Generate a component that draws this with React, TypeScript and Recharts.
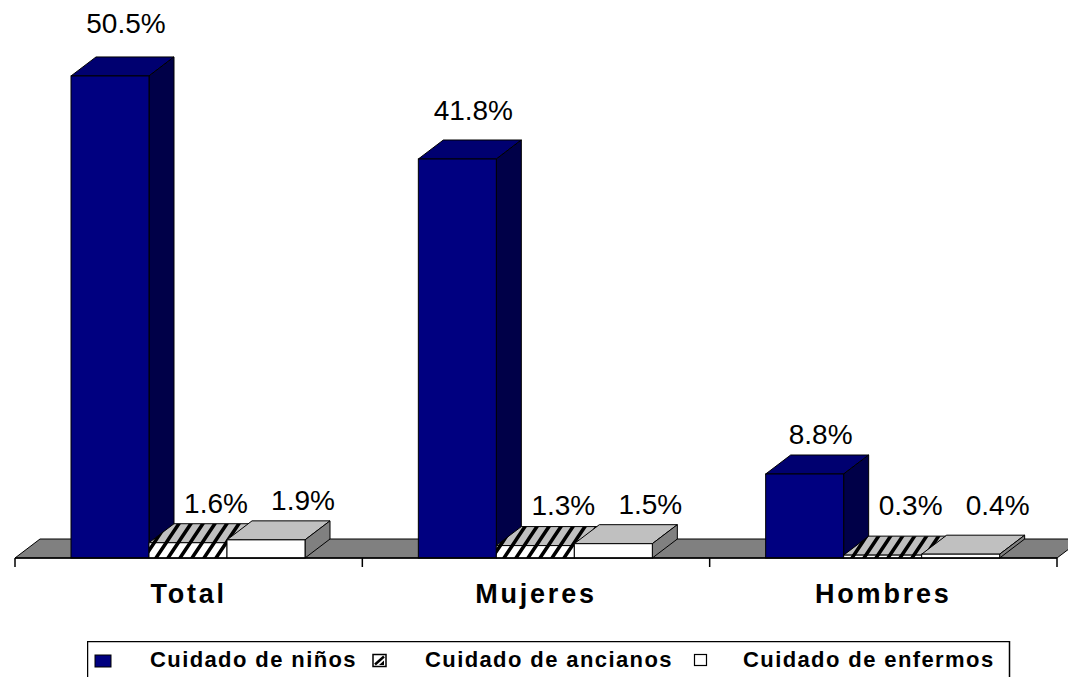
import React from 'react';
import { BarChart, Bar, XAxis, YAxis, CartesianGrid, LabelList, Legend } from 'recharts';

const categories = ['Total', 'Mujeres', 'Hombres'];
const ninos = [50.5, 41.8, 8.8];
const ancianos = [1.6, 1.3, 0.3];
const enfermos = [1.9, 1.5, 0.4];
const seriesNames = ['Cuidado de niños', 'Cuidado de ancianos', 'Cuidado de enfermos'];

const data = categories.map((c, i) => ({
  name: c,
  ninos: ninos[i],
  ancianos: ancianos[i],
  enfermos: enfermos[i],
}));

const DX = 25;
const DY = -19;
const FONT = '"Liberation Sans", Arial, Helvetica, sans-serif';

const Patterns = () => (
  <defs>
    <pattern id="hatchFront" patternUnits="userSpaceOnUse" width="12" height="18">
      <rect width="12" height="18" fill="#fff" />
      <path d="M0,18 L12,0 M-4,6 L4,-6 M8,24 L16,12" stroke="#000" strokeWidth="3.5" />
    </pattern>
    <pattern id="hatchTop" patternUnits="userSpaceOnUse" width="12" height="18">
      <rect width="12" height="18" fill="#c0c0c0" />
      <path d="M0,18 L12,0 M-4,6 L4,-6 M8,24 L16,12" stroke="#000" strokeWidth="3.5" />
    </pattern>
    <pattern id="hatchSide" patternUnits="userSpaceOnUse" width="12" height="18">
      <rect width="12" height="18" fill="#808080" />
      <path d="M0,18 L12,0 M-4,6 L4,-6 M8,24 L16,12" stroke="#000" strokeWidth="3.5" />
    </pattern>
  </defs>
);

const makeShape = (front: string, top: string, side: string, withDefs = false) => (props: any) => {
  const { x, y, width: w, height: h } = props;
  if (w == null || h == null) return <g />;
  return (
    <g>
      {withDefs ? <Patterns /> : null}
      <polygon
        points={`${x},${y} ${x + DX},${y + DY} ${x + w + DX},${y + DY} ${x + w},${y}`}
        fill={top}
        stroke="#000"
        strokeWidth={1}
      />
      <polygon
        points={`${x + w},${y} ${x + w + DX},${y + DY} ${x + w + DX},${y + h + DY} ${x + w},${y + h}`}
        fill={side}
        stroke="#000"
        strokeWidth={1}
      />
      <rect x={x} y={y} width={w} height={h} fill={front} stroke="#000" strokeWidth={1} />
    </g>
  );
};

const ninosShape = makeShape('#000080', '#000070', '#000048');
const ancianosShape = makeShape('url(#hatchFront)', 'url(#hatchTop)', 'url(#hatchSide)', true);
const enfermosShape = makeShape('#ffffff', '#c0c0c0', '#808080');

const makeLabel = (shift: number) => (props: any) => {
  const { x, y, width, height, value } = props;
  const bottom = y + height;
  const off = 40 + 13 * Math.pow(height / 480, 2);
  const cy = Math.min(y - off, bottom - 53);
  return (
    <text
      x={x + width / 2 + shift}
      y={cy + 10}
      textAnchor="middle"
      fontSize={28}
      fontFamily={FONT}
      fill="#000"
    >
      {`${value}%`}
    </text>
  );
};

const Floor = (props: any) => {
  const { x1, y1, x2, y, height } = props;
  if (typeof y === 'number' && typeof height === 'number' && Math.abs(y1 - (y + height)) > 1) {
    return <g key={props.key} />;
  }
  return (
    <polygon
      key={props.key}
      points={`${x1},${y1} ${x1 + DX},${y1 + DY} ${x2 + DX},${y1 + DY} ${x2},${y1}`}
      fill="#808080"
      stroke="#000"
      strokeWidth={1}
    />
  );
};

const CatTick = (props: any) => {
  const { x, y, payload, index, visibleTicksCount, width } = props;
  const half =
    payload && typeof payload.offset === 'number' && payload.offset > 0
      ? payload.offset
      : width / visibleTicksCount / 2;
  return (
    <g>
      <line x1={x - half} y1={y} x2={x - half} y2={y + 9} stroke="#000" strokeWidth={1.5} />
      {index === visibleTicksCount - 1 ? (
        <line x1={x + half} y1={y} x2={x + half} y2={y + 9} stroke="#000" strokeWidth={1.5} />
      ) : null}
      <text
        x={x}
        y={y + 45}
        textAnchor="middle"
        fontSize={27}
        fontWeight="bold"
        letterSpacing={2.8}
        fontFamily={FONT}
        fill="#000"
      >
        {payload.value}
      </text>
    </g>
  );
};

const LegendBox = () => {
  const textProps = {
    fontSize: 22,
    fontWeight: 'bold' as const,
    letterSpacing: 1.4,
    fontFamily: FONT,
    fill: '#000',
  };
  return (
    <svg width={924} height={46} style={{ display: 'block' }}>
      <rect x={0.5} y={0.5} width={922} height={60} fill="#fff" stroke="#000" strokeWidth={1.5} />
      <rect x={8} y={14} width={16} height={12} fill="#000080" stroke="#000" strokeWidth={1} />
      <text x={63} y={26} {...textProps}>{seriesNames[0]}</text>
      <rect x={286} y={13.5} width={13} height={12} fill="#fff" stroke="#000" strokeWidth={1.5} />
      <line x1={288} y1={23.5} x2={297} y2={15.5} stroke="#000" strokeWidth={2.5} />
      <polygon points="292,24 297,19.5 297,24" fill="#000" />
      <text x={338} y={26} {...textProps}>{seriesNames[1]}</text>
      <rect x={607.5} y={13.5} width={12} height={11} fill="#fff" stroke="#000" strokeWidth={1.2} />
      <text x={656} y={26} {...textProps}>{seriesNames[2]}</text>
    </svg>
  );
};

export default function App() {
  return (
    <div
      style={{
        position: 'absolute',
        left: 0,
        top: 0,
        width: 1068,
        height: 677,
        overflow: 'hidden',
        background: '#fff',
      }}
    >
      <BarChart
        width={1068}
        height={677}
        data={data}
        margin={{ top: 33, right: 11, left: 15, bottom: 23 }}
        barCategoryGap={56}
        barGap={0}
      >
        <CartesianGrid
          vertical={false}
          horizontal={Floor as any}
          stroke="#000"
        />
        <YAxis hide domain={[0, 55]} ticks={[0]} />
        <XAxis
          dataKey="name"
          height={50}
          tickLine={false}
          tickSize={0}
          tickMargin={0}
          axisLine={{ stroke: '#000', strokeWidth: 1.5 }}
          tick={<CatTick />}
          interval={0}
        />
        <Legend
          verticalAlign="bottom"
          height={46}
          content={() => <LegendBox />}
          wrapperStyle={{ position: 'absolute', left: 87, top: 641, width: 924, height: 46 }}
        />
        <Bar dataKey="ninos" name={seriesNames[0]} shape={ninosShape} isAnimationActive={false}>
          <LabelList dataKey="ninos" content={makeLabel(16)} />
        </Bar>
        <Bar dataKey="ancianos" name={seriesNames[1]} shape={ancianosShape} isAnimationActive={false}>
          <LabelList dataKey="ancianos" content={makeLabel(28)} />
        </Bar>
        <Bar dataKey="enfermos" name={seriesNames[2]} shape={enfermosShape} isAnimationActive={false}>
          <LabelList dataKey="enfermos" content={makeLabel(37)} />
        </Bar>
      </BarChart>
    </div>
  );
}
